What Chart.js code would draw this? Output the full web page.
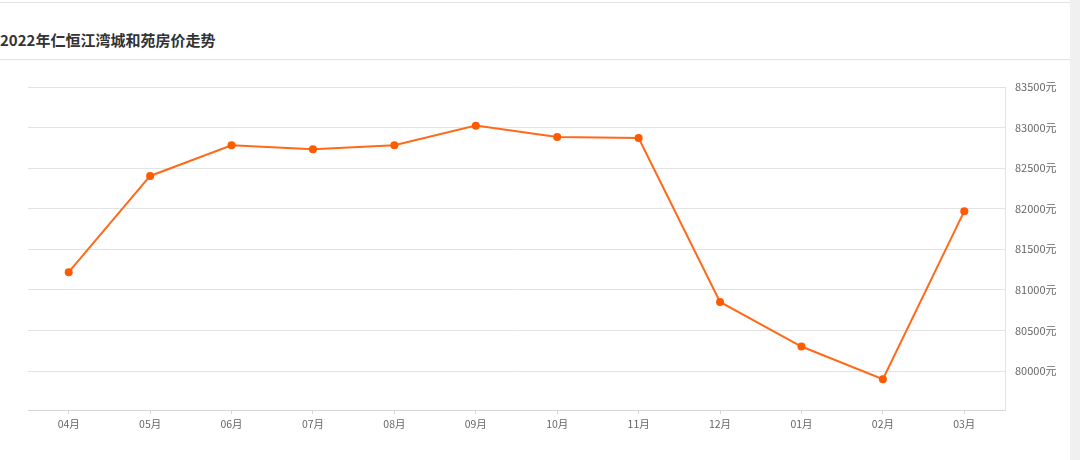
<!DOCTYPE html>
<html>
<head>
<meta charset="utf-8">
<script src="https://cdn.jsdelivr.net/npm/chart.js@4"></script>
<style>
  html, body { margin: 0; padding: 0; background: #fff; width: 1080px; height: 460px; overflow: hidden; }
  .strip { position: absolute; left: 1070px; top: 0; width: 10px; height: 460px; background: #f0f0f0; }
  .topline { position: absolute; left: 0; top: 2px; width: 1070px; height: 1px; background: #e3e3e3; }
  .title { position: absolute; left: 0; top: 29px; font: bold 15px "Microsoft YaHei", "Noto Sans CJK SC", sans-serif; color: #333; white-space: nowrap; }
  .titleline { position: absolute; left: 0; top: 59px; width: 1070px; height: 1px; background: #e3e3e3; }
  .box { position: absolute; left: 0; top: 60px; width: 1070px; height: 400px; }
</style>
</head>
<body>
<div class="strip"></div>
<div class="topline"></div>
<div class="title">2022年仁恒江湾城和苑房价走势</div>
<div class="titleline"></div>
<div class="box"><canvas id="grafica"></canvas></div>
<script>
// datos
const meses = ["04月", "05月", "06月", "07月", "08月", "09月", "10月", "11月", "12月", "01月", "02月", "03月"];
const precios = [81218, 82404, 82782, 82733, 82782, 83024, 82884, 82872, 80852, 80302, 79900, 81970];
const marcasY = [80000, 80500, 81000, 81500, 82000, 82500, 83000, 83500];
const ejeMin = 79520;
const ejeMax = 83500;

Chart.defaults.font.family = '"Microsoft YaHei", "Noto Sans CJK SC", sans-serif';

const chartDOM = document.getElementById("grafica");
const config = {
  type: "line",
  data: {
    labels: meses,
    datasets: [
      {
        label: "房价",
        data: precios,
        borderColor: "#ff6a1a",
        borderWidth: 2,
        backgroundColor: "#ff5a00",
        pointBackgroundColor: "#ff5a00",
        pointBorderWidth: 0,
        pointRadius: 4,
        tension: 0
      }
    ]
  },
  options: {
    responsive: true,
    maintainAspectRatio: false,
    animation: false,
    layout: { padding: { left: 28, top: 27, right: 0, bottom: 0 } },
    plugins: { legend: { display: false }, tooltip: { enabled: false } },
    scales: {
      x: {
        offset: true,
        grid: { drawOnChartArea: false, drawTicks: true, tickLength: 4, color: "#d6d6d6" },
        border: { color: "#d6d6d6", width: 1 },
        ticks: { color: "#666", font: { size: 10.5 }, padding: 4, maxRotation: 0 },
        afterFit: function (axis) { axis.height = 50; }
      },
      y: {
        position: "right",
        min: ejeMin,
        max: ejeMax,
        grid: { color: "#e3e3e3", drawTicks: false },
        border: { color: "#e3e3e3", width: 1 },
        ticks: {
          color: "#666",
          font: { size: 11 },
          padding: 10,
          callback: function (v) { return v + "元"; }
        },
        afterBuildTicks: function (axis) {
          axis.ticks = marcasY.map(function (v) { return { value: v }; });
        },
        afterFit: function (axis) { axis.width = 65; }
      }
    }
  }
};
new Chart(chartDOM, config);
</script>
</body>
</html>
